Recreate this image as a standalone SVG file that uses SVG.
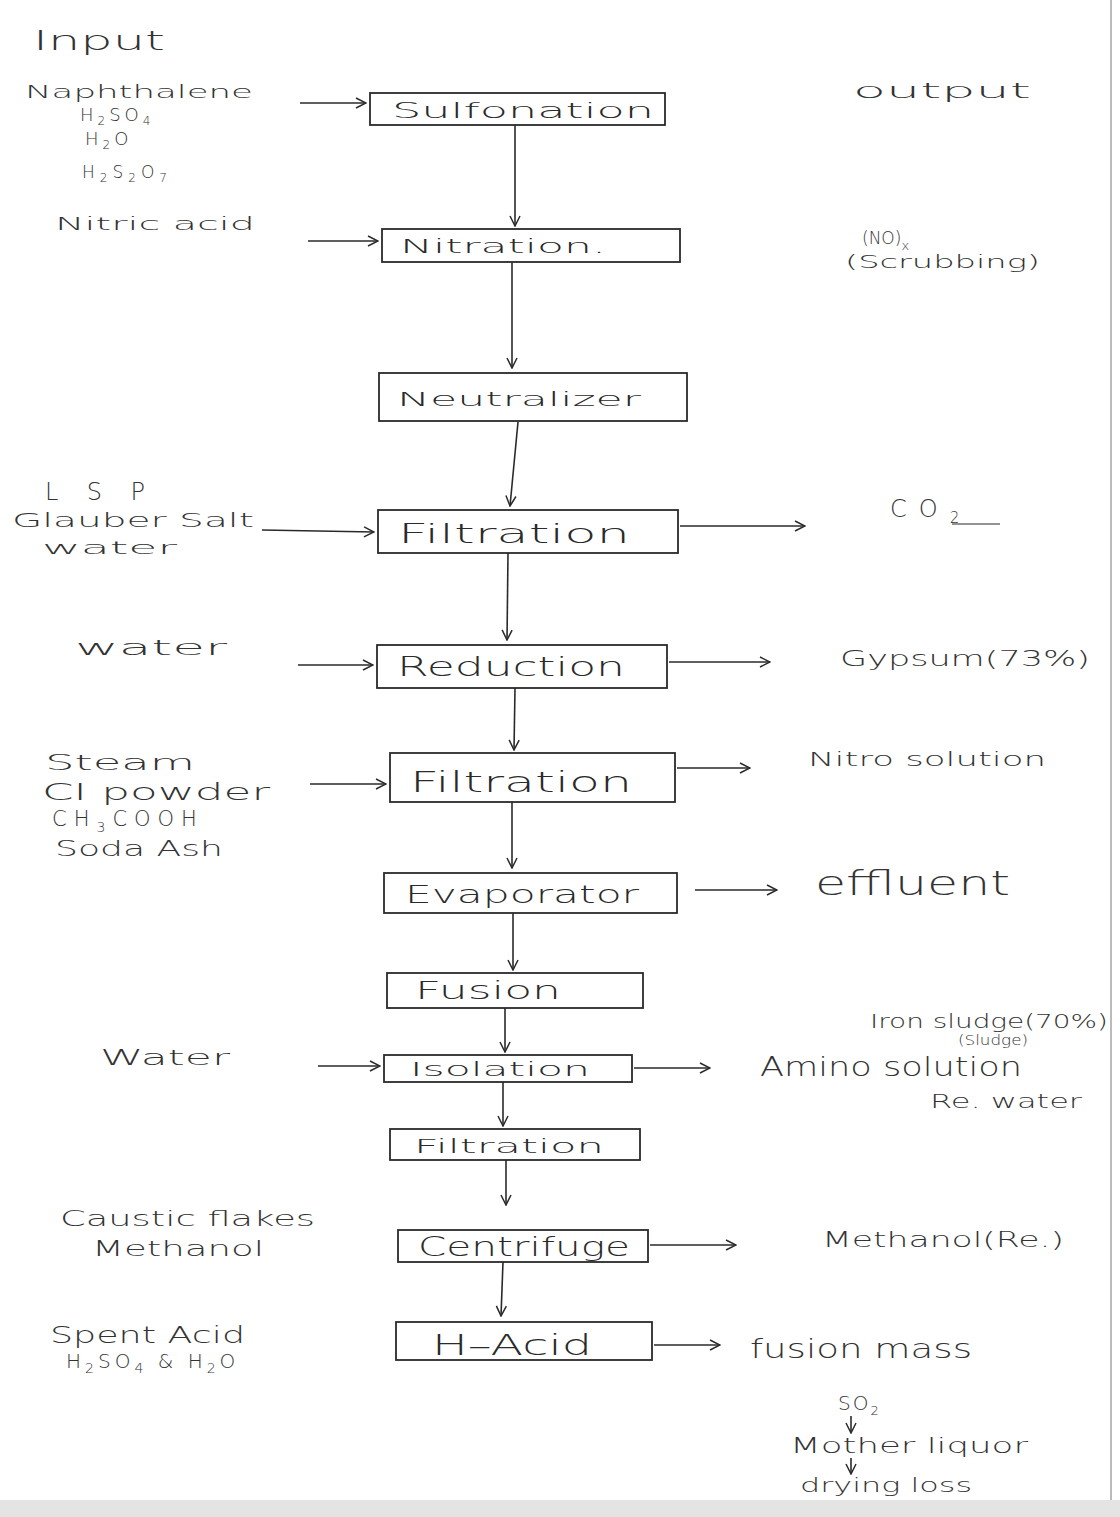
<svg xmlns="http://www.w3.org/2000/svg" width="1120" height="1517" viewBox="0 0 1120 1517">
<defs>
<marker id="ah" viewBox="0 0 12 12" refX="11" refY="6" markerWidth="12" markerHeight="12" markerUnits="userSpaceOnUse" orient="auto">
<path d="M1,1 L11,6 L1,11" fill="none" stroke="#2a2a2a" stroke-width="1.5"/>
</marker>
</defs>
<style>
.box{fill:none;stroke:#2a2a2a;stroke-width:1.8}
.bt{font-family:"DejaVu Sans","Liberation Sans",sans-serif;fill:#2a2a2a;font-weight:300}
.lb{font-family:"DejaVu Sans","Liberation Sans",sans-serif;fill:#333;font-weight:300}
.cn{fill:none;stroke:#2a2a2a;stroke-width:1.6;marker-end:url(#ah)}
.ln{fill:none;stroke:#2a2a2a;stroke-width:1.2}
</style>
<rect width="1120" height="1517" fill="#ffffff"/>
<rect x="0" y="1500" width="1120" height="17" fill="#e4e4e4"/>
<line x1="1111" y1="0" x2="1111" y2="1500" stroke="#bbbbbb" stroke-width="2"/>

<g id="labels-input">
<text class="lb" x="33" y="50" font-size="26" textLength="132" lengthAdjust="spacingAndGlyphs">Input</text>
<text class="lb" x="25" y="98" font-size="17" textLength="228" lengthAdjust="spacingAndGlyphs">Naphthalene</text>
<text class="lb" x="80" y="121" font-size="18" letter-spacing="4">H<tspan font-size="12" dy="4">2</tspan><tspan dy="-4">SO</tspan><tspan font-size="12" dy="4">4</tspan></text>
<text class="lb" x="85" y="145" font-size="18" letter-spacing="4">H<tspan font-size="12" dy="4">2</tspan><tspan dy="-4">O</tspan></text>
<text class="lb" x="82" y="178" font-size="17" letter-spacing="5">H<tspan font-size="12" dy="4">2</tspan><tspan dy="-4">S</tspan><tspan font-size="12" dy="4">2</tspan><tspan dy="-4">O</tspan><tspan font-size="12" dy="4">7</tspan></text>
<text class="lb" x="55" y="230" font-size="17" textLength="200" lengthAdjust="spacingAndGlyphs">Nitric acid</text>
<text class="lb" x="45" y="500" font-size="24" textLength="100" lengthAdjust="spacing">LSP</text>
<text class="lb" x="12" y="527" font-size="19" textLength="242" lengthAdjust="spacingAndGlyphs">Glauber Salt</text>
<text class="lb" x="42" y="554" font-size="17" textLength="135" lengthAdjust="spacingAndGlyphs">water</text>
<text class="lb" x="75" y="655" font-size="22" textLength="152" lengthAdjust="spacingAndGlyphs">water</text>
<text class="lb" x="45" y="770" font-size="21" textLength="150" lengthAdjust="spacingAndGlyphs">Steam</text>
<text class="lb" x="42" y="800" font-size="23" textLength="228" lengthAdjust="spacingAndGlyphs">CI powder</text>
<text class="lb" x="52" y="826" font-size="21" letter-spacing="7">CH<tspan font-size="14" dy="6">3</tspan><tspan dy="-6">COOH</tspan></text>
<text class="lb" x="55" y="856" font-size="21" textLength="168" lengthAdjust="spacingAndGlyphs">Soda Ash</text>
<text class="lb" x="100" y="1065" font-size="22" textLength="130" lengthAdjust="spacingAndGlyphs">Water</text>
<text class="lb" x="60" y="1226" font-size="22" textLength="255" lengthAdjust="spacingAndGlyphs">Caustic flakes</text>
<text class="lb" x="92" y="1256" font-size="21" textLength="172" lengthAdjust="spacingAndGlyphs">Methanol</text>
<text class="lb" x="50" y="1343" font-size="23" textLength="195" lengthAdjust="spacingAndGlyphs">Spent Acid</text>
<text class="lb" x="66" y="1368" font-size="20" letter-spacing="4">H<tspan font-size="14" dy="5">2</tspan><tspan dy="-5">SO</tspan><tspan font-size="14" dy="5">4</tspan><tspan dy="-5"> &amp; H</tspan><tspan font-size="14" dy="5">2</tspan><tspan dy="-5">O</tspan></text>
</g>

<g id="labels-output">
<text class="lb" x="853" y="98" font-size="22" textLength="178" lengthAdjust="spacingAndGlyphs">output</text>
<text class="lb" x="862" y="244" font-size="17">(NO)<tspan font-size="13" dy="6">x</tspan></text>
<text class="lb" x="845" y="268" font-size="17" textLength="195" lengthAdjust="spacingAndGlyphs">(Scrubbing)</text>
<text class="lb" x="890" y="517" font-size="24" letter-spacing="12">CO<tspan font-size="15" dy="6" letter-spacing="0">2</tspan></text>
<line class="ln" x1="952" y1="524" x2="1000" y2="524"/>
<text class="lb" x="840" y="666" font-size="22" textLength="250" lengthAdjust="spacingAndGlyphs">Gypsum(73%)</text>
<text class="lb" x="808" y="766" font-size="19" textLength="238" lengthAdjust="spacingAndGlyphs">Nitro solution</text>
<text class="lb" x="815" y="895" font-size="34" textLength="195" lengthAdjust="spacingAndGlyphs">effluent</text>
<text class="lb" x="870" y="1028" font-size="19" textLength="238" lengthAdjust="spacingAndGlyphs">Iron sludge(70%)</text>
<text class="lb" x="958" y="1045" font-size="14" textLength="70" lengthAdjust="spacingAndGlyphs">(Sludge)</text>
<text class="lb" x="760" y="1076" font-size="26" textLength="262" lengthAdjust="spacingAndGlyphs">Amino solution</text>
<text class="lb" x="930" y="1108" font-size="19" textLength="152" lengthAdjust="spacingAndGlyphs">Re. water</text>
<text class="lb" x="822" y="1247" font-size="22" textLength="242" lengthAdjust="spacingAndGlyphs">Methanol(Re.)</text>
<text class="lb" x="750" y="1358" font-size="27" textLength="222" lengthAdjust="spacingAndGlyphs">fusion mass</text>
<text class="lb" x="838" y="1410" font-size="20" letter-spacing="2">SO<tspan font-size="13" dy="5">2</tspan></text>
<text class="lb" x="790" y="1453" font-size="21" textLength="238" lengthAdjust="spacingAndGlyphs">Mother liquor</text>
<text class="lb" x="800" y="1492" font-size="19" textLength="172" lengthAdjust="spacingAndGlyphs">drying loss</text>
</g>

<g id="n-sulfonation"><rect class="box" x="370" y="93" width="295" height="32"/><text class="bt" x="392" y="118" font-size="21" textLength="262" lengthAdjust="spacingAndGlyphs">Sulfonation</text></g>
<g id="n-nitration"><rect class="box" x="382" y="229" width="298" height="33"/><text class="bt" x="400" y="253" font-size="20" textLength="206" lengthAdjust="spacingAndGlyphs">Nitration.</text></g>
<g id="n-neutralizer"><rect class="box" x="379" y="373" width="308" height="48"/><text class="bt" x="397" y="406" font-size="20" textLength="244" lengthAdjust="spacingAndGlyphs">Neutralizer</text></g>
<g id="n-filtration1"><rect class="box" x="378" y="510" width="300" height="43"/><text class="bt" x="398" y="543" font-size="26" textLength="232" lengthAdjust="spacingAndGlyphs">Filtration</text></g>
<g id="n-reduction"><rect class="box" x="377" y="645" width="290" height="43"/><text class="bt" x="397" y="676" font-size="26" textLength="228" lengthAdjust="spacingAndGlyphs">Reduction</text></g>
<g id="n-filtration2"><rect class="box" x="390" y="753" width="285" height="49"/><text class="bt" x="410" y="792" font-size="28" textLength="222" lengthAdjust="spacingAndGlyphs">Filtration</text></g>
<g id="n-evaporator"><rect class="box" x="384" y="873" width="293" height="40"/><text class="bt" x="405" y="903" font-size="24" textLength="234" lengthAdjust="spacingAndGlyphs">Evaporator</text></g>
<g id="n-fusion"><rect class="box" x="387" y="973" width="256" height="35"/><text class="bt" x="415" y="999" font-size="24" textLength="146" lengthAdjust="spacingAndGlyphs">Fusion</text></g>
<g id="n-isolation"><rect class="box" x="384" y="1055" width="248" height="27"/><text class="bt" x="410" y="1076" font-size="20" textLength="180" lengthAdjust="spacingAndGlyphs">Isolation</text></g>
<g id="n-filtration3"><rect class="box" x="390" y="1129" width="250" height="31"/><text class="bt" x="414" y="1153" font-size="20" textLength="190" lengthAdjust="spacingAndGlyphs">Filtration</text></g>
<g id="n-centrifuge"><rect class="box" x="398" y="1230" width="250" height="32"/><text class="bt" x="418" y="1256" font-size="26" textLength="212" lengthAdjust="spacingAndGlyphs">Centrifuge</text></g>
<g id="n-hacid"><rect class="box" x="396" y="1322" width="256" height="38"/><text class="bt" x="432" y="1355" font-size="28" textLength="160" lengthAdjust="spacingAndGlyphs">H–Acid</text></g>

<g id="connectors">
<path class="cn" d="M515,125 L515,226"/>
<path class="cn" d="M512,262 L512,368"/>
<path class="cn" d="M518,422 L510,506"/>
<path class="cn" d="M508,553 L507,640"/>
<path class="cn" d="M515,688 L514,750"/>
<path class="cn" d="M512,802 L512,868"/>
<path class="cn" d="M513,913 L513,970"/>
<path class="cn" d="M505,1008 L505,1052"/>
<path class="cn" d="M503,1082 L503,1126"/>
<path class="cn" d="M506,1160 L506,1205"/>
<path class="cn" d="M503,1262 L501,1316"/>

<path class="cn" d="M300,103 L366,103"/>
<path class="cn" d="M308,241 L378,241"/>
<path class="cn" d="M262,530 L374,532"/>
<path class="cn" d="M298,665 L373,665"/>
<path class="cn" d="M310,784 L386,784"/>
<path class="cn" d="M318,1066 L380,1066"/>

<path class="cn" d="M680,526 L805,526"/>
<path class="cn" d="M669,662 L770,662"/>
<path class="cn" d="M677,768 L750,768"/>
<path class="cn" d="M695,890 L777,890"/>
<path class="cn" d="M634,1068 L710,1068"/>
<path class="cn" d="M650,1245 L736,1245"/>
<path class="cn" d="M654,1345 L720,1345"/>

<path class="cn" d="M851,1416 L851,1433"/>
<path class="cn" d="M851,1458 L851,1474"/>
</g>
</svg>
